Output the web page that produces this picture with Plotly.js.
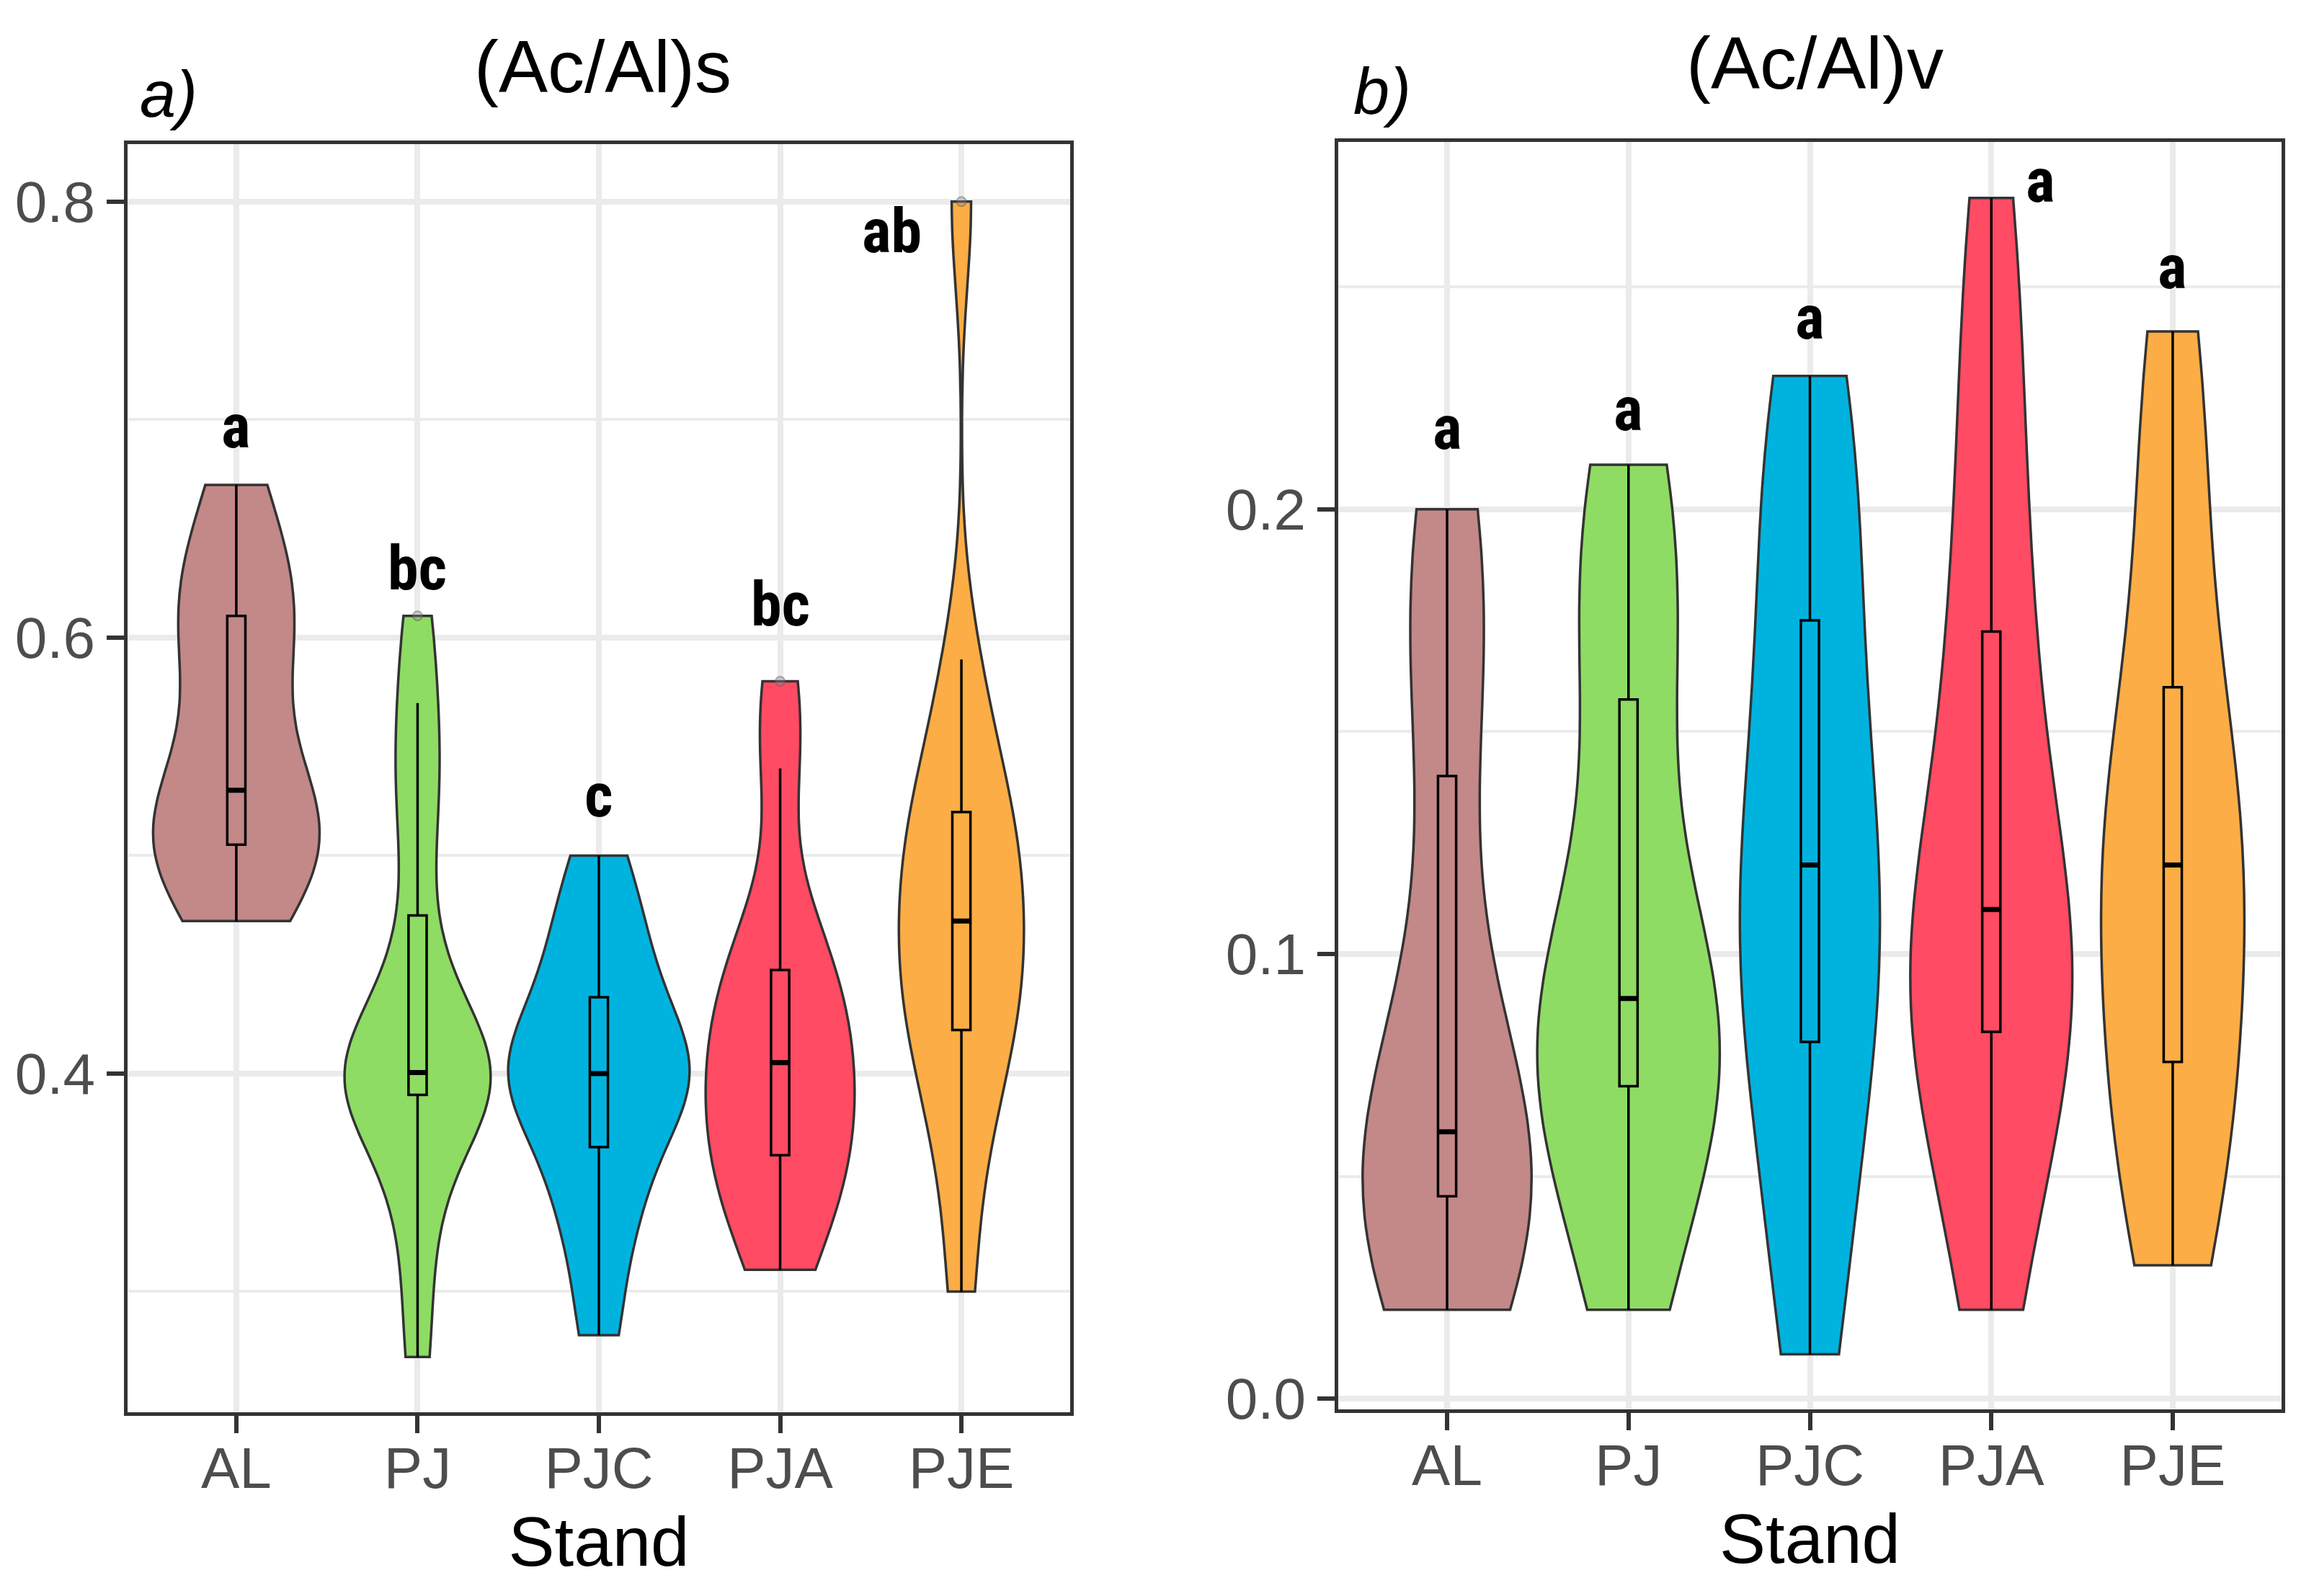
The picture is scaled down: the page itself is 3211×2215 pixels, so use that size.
<!DOCTYPE html>
<html>
<head>
<meta charset="utf-8">
<script src="https://cdn.plot.ly/plotly-3.0.1.min.js"></script>
<style>html,body{margin:0;padding:0;background:#fff;}</style>
</head>
<body>
<div id="chart" style="width:3211px;height:2215px;"></div>
<script>
// ---------------- DATA ----------------
const categories = ['AL', 'PJ', 'PJC', 'PJA', 'PJE'];

// Panel a) (Ac/Al)s  — estimated sample values per stand
const sAL  = [0.47, 0.49, 0.50, 0.505, 0.515, 0.522, 0.53, 0.57, 0.595, 0.61, 0.62, 0.64, 0.67];
const sPJ  = [0.27, 0.32, 0.355, 0.385, 0.392, 0.395, 0.398, 0.40, 0.401, 0.41, 0.43, 0.46, 0.51, 0.54, 0.57, 0.61];
const sPJC = [0.28, 0.32, 0.345, 0.36, 0.385, 0.39, 0.395, 0.405, 0.41, 0.42, 0.44, 0.455, 0.475, 0.50];
const sPJA = [0.31, 0.33, 0.35, 0.36, 0.37, 0.385, 0.40, 0.41, 0.42, 0.44, 0.45, 0.47, 0.54, 0.58];
const sPJE = [0.30, 0.36, 0.39, 0.415, 0.425, 0.44, 0.455, 0.47, 0.48, 0.50, 0.515, 0.525, 0.55, 0.59, 0.80];

// Panel b) (Ac/Al)v
const vAL  = [0.02, 0.03, 0.04, 0.045, 0.047, 0.05, 0.055, 0.065, 0.08, 0.11, 0.15, 0.17, 0.19, 0.20];
const vPJ  = [0.02, 0.04, 0.055, 0.068, 0.077, 0.083, 0.088, 0.092, 0.10, 0.14, 0.163, 0.18, 0.20, 0.21];
const vPJC = [0.01, 0.03, 0.06, 0.078, 0.087, 0.10, 0.115, 0.125, 0.135, 0.16, 0.18, 0.20, 0.22, 0.23];
const vPJA = [0.02, 0.045, 0.065, 0.08, 0.085, 0.092, 0.10, 0.11, 0.12, 0.14, 0.165, 0.18, 0.21, 0.24, 0.27];
const vPJE = [0.03, 0.045, 0.06, 0.072, 0.087, 0.10, 0.115, 0.125, 0.13, 0.145, 0.165, 0.19, 0.22, 0.24];

// Significance letters and the y value of their baseline
const lettersA = ['a', 'bc', 'c', 'bc', 'ab'];
const letterYA = [0.6856, 0.6205, 0.5164, 0.604, 0.775];
const lettersB = ['a', 'a', 'a', 'a', 'a'];
const letterYB = [0.2127, 0.2169, 0.2375, 0.2683, 0.2489];

const panelTitles = ['(Ac/Al)s', '(Ac/Al)v'];
const panelTags = ['a)', 'b)'];
const xTitle = 'Stand';

// ---------------- STYLE ----------------
const fills = ['#C38888', '#8EDC64', '#00B3DF', '#FF4B63', '#FCAD45'];
const widthsA = [0.915, 0.80, 1.0, 0.82, 0.69];
const widthsB = [0.93, 1.0, 0.77, 0.89, 0.79];
const letterXShiftA = [0, 0, 0, 0, -97];
const letterXShiftB = [0, 0, 0, 68, 0];
const FONT = 'Liberation Sans, Arial, sans-serif';
const NARROW = '"Liberation Sans Narrow", "Arial Narrow", "Roboto Condensed", "Noto Sans Condensed", "Open Sans Condensed", "DejaVu Sans Condensed", "Liberation Sans", sans-serif';

// ggplot-style (type 7) quantiles and nrd0 bandwidth
function quant7(sorted, p) {
  const h = (sorted.length - 1) * p;
  const lo = Math.floor(h), hi = Math.ceil(h);
  return sorted[lo] + (h - lo) * (sorted[hi] - sorted[lo]);
}
function nrd0(x) {
  const s = x.slice().sort((a, b) => a - b);
  const n = s.length;
  const m = s.reduce((a, b) => a + b, 0) / n;
  const sd = Math.sqrt(s.reduce((a, b) => a + (b - m) * (b - m), 0) / (n - 1));
  const iqr = quant7(s, 0.75) - quant7(s, 0.25);
  const lo = Math.min(sd, iqr / 1.34);
  return 0.9 * lo * Math.pow(n, -0.2);
}
function boxStats(x) {
  const s = x.slice().sort((a, b) => a - b);
  const q1 = quant7(s, 0.25), med = quant7(s, 0.5), q3 = quant7(s, 0.75);
  const iqr = q3 - q1;
  const inside = s.filter(v => v >= q1 - 1.5 * iqr && v <= q3 + 1.5 * iqr);
  const out = s.filter(v => v < q1 - 1.5 * iqr || v > q3 + 1.5 * iqr);
  return {q1, med, q3, lf: inside[0], uf: inside[inside.length - 1], out};
}

const seriesA = [sAL, sPJ, sPJC, sPJA, sPJE];
const seriesB = [vAL, vPJ, vPJC, vPJA, vPJE];

const traces = [];
function addPanel(series, widths, xa, ya) {
  series.forEach((vals, i) => {
    traces.push({
      type: 'violin', x: vals.map(() => categories[i]), y: vals, xaxis: xa, yaxis: ya,
      spanmode: 'hard', points: false, box: {visible: false}, meanline: {visible: false},
      bandwidth: nrd0(vals), width: widths[i], scalemode: 'width',
      fillcolor: fills[i], line: {color: '#333333', width: 3.5},
      opacity: 1, showlegend: false, hoverinfo: 'y'
    });
  });
  series.forEach((vals, i) => {
    const st = boxStats(vals);
    traces.push({
      type: 'box', x: [categories[i]], xaxis: xa, yaxis: ya,
      q1: [st.q1], median: [st.med], q3: [st.q3], lowerfence: [st.lf], upperfence: [st.uf],
      boxpoints: false, whiskerwidth: 0, width: 0.1,
      fillcolor: 'rgba(0,0,0,0)', line: {color: '#000000', width: 3.5},
      showlegend: false, hoverinfo: 'skip'
    });
    // thicker median bar (ggplot fatten)
    traces.push({
      type: 'box', x: [categories[i]], xaxis: xa, yaxis: ya,
      q1: [st.med], median: [st.med], q3: [st.med], lowerfence: [st.med], upperfence: [st.med],
      boxpoints: false, whiskerwidth: 0, width: 0.1,
      fillcolor: 'rgba(0,0,0,0)', line: {color: '#000000', width: 7},
      showlegend: false, hoverinfo: 'skip'
    });
    if (st.out.length) {
      traces.push({
        type: 'scatter', mode: 'markers', x: st.out.map(() => categories[i]), y: st.out, xaxis: xa, yaxis: ya,
        marker: {color: 'rgba(140,140,140,0.35)', size: 13, line: {color: 'rgba(90,90,90,0.45)', width: 2}},
        showlegend: false, hoverinfo: 'y'
      });
    }
  });
}
addPanel(seriesA, widthsA, 'x', 'y');
addPanel(seriesB, widthsB, 'x2', 'y2');

const W = 3211, H = 2215;
const xDomA = [177 / W, 1485 / W], xDomB = [1857 / W, 3166 / W];
const yDomA = [1 - 1960 / H, 1 - 200 / H], yDomB = [1 - 1956 / H, 1 - 197 / H];

function xAxis(dom, anchor) {
  return {
    domain: dom, anchor: anchor, type: 'category', categoryorder: 'array', categoryarray: categories,
    range: [-0.6, 4.6], showgrid: true, gridcolor: '#EBEBEB', gridwidth: 8,
    showline: true, mirror: true, linecolor: '#333333', linewidth: 5,
    ticks: 'outside', ticklen: 24, tickwidth: 6, tickcolor: '#333333', ticklabelstandoff: -20,
    tickfont: {family: FONT, size: 80, color: '#4D4D4D'},
    title: {text: xTitle, font: {family: FONT, size: 96, color: '#000000'}, standoff: 26},
    zeroline: false, fixedrange: true
  };
}
function yAxis(dom, anchor, range, dtick, minor) {
  return {
    domain: dom, anchor: anchor, range: range, tick0: 0, dtick: dtick, tickformat: '.1f',
    showgrid: true, gridcolor: '#EBEBEB', gridwidth: 8,
    minor: {dtick: minor, tick0: 0, showgrid: true, gridcolor: '#EBEBEB', gridwidth: 4, ticks: ''},
    showline: true, mirror: true, linecolor: '#333333', linewidth: 5,
    ticks: 'outside', ticklen: 24, tickwidth: 6, tickcolor: '#333333',
    tickfont: {family: FONT, size: 80, color: '#4D4D4D'},
    zeroline: false, fixedrange: true
  };
}

const annotations = [];
annotations.push({xref: 'paper', yref: 'paper', x: 836 / W, y: 1 - 152 / H, xanchor: 'center', yanchor: 'bottom',
  text: panelTitles[0], showarrow: false, font: {family: FONT, size: 102, color: '#000'}});
annotations.push({xref: 'paper', yref: 'paper', x: 2518 / W, y: 1 - 147 / H, xanchor: 'center', yanchor: 'bottom',
  text: panelTitles[1], showarrow: false, font: {family: FONT, size: 102, color: '#000'}});
annotations.push({xref: 'paper', yref: 'paper', x: 192 / W, y: 1 - 183 / H, xanchor: 'left', yanchor: 'bottom',
  text: '<i>' + panelTags[0] + '</i>', showarrow: false, font: {family: FONT, size: 90, color: '#000'}});
annotations.push({xref: 'paper', yref: 'paper', x: 1876 / W, y: 1 - 179 / H, xanchor: 'left', yanchor: 'bottom',
  text: '<i>' + panelTags[1] + '</i>', showarrow: false, font: {family: FONT, size: 90, color: '#000'}});
lettersA.forEach((t, i) => annotations.push({xref: 'x', yref: 'y', x: categories[i], y: letterYA[i],
  xanchor: 'center', yanchor: 'bottom', xshift: letterXShiftA[i], yshift: -18, text: '<b>' + t + '</b>', showarrow: false,
  font: {family: NARROW, size: 86, color: '#000'}}));
lettersB.forEach((t, i) => annotations.push({xref: 'x2', yref: 'y2', x: categories[i], y: letterYB[i],
  xanchor: 'center', yanchor: 'bottom', xshift: letterXShiftB[i], yshift: -18, text: '<b>' + t + '</b>', showarrow: false,
  font: {family: NARROW, size: 86, color: '#000'}}));

const layout = {
  width: W, height: H, margin: {l: 0, r: 0, t: 0, b: 0, pad: 0},
  paper_bgcolor: '#FFFFFF', plot_bgcolor: '#FFFFFF',
  violinmode: 'overlay', boxmode: 'overlay', showlegend: false,
  xaxis: xAxis(xDomA, 'y'),
  yaxis: yAxis(yDomA, 'x', [0.2446, 0.8264], 0.2, 0.1),
  xaxis2: xAxis(xDomB, 'y2'),
  yaxis2: yAxis(yDomB, 'x2', [-0.0024, 0.2826], 0.1, 0.05),
  annotations: annotations,
  font: {family: FONT}
};

Plotly.newPlot('chart', traces, layout, {displayModeBar: false, responsive: false});
</script>
</body>
</html>
